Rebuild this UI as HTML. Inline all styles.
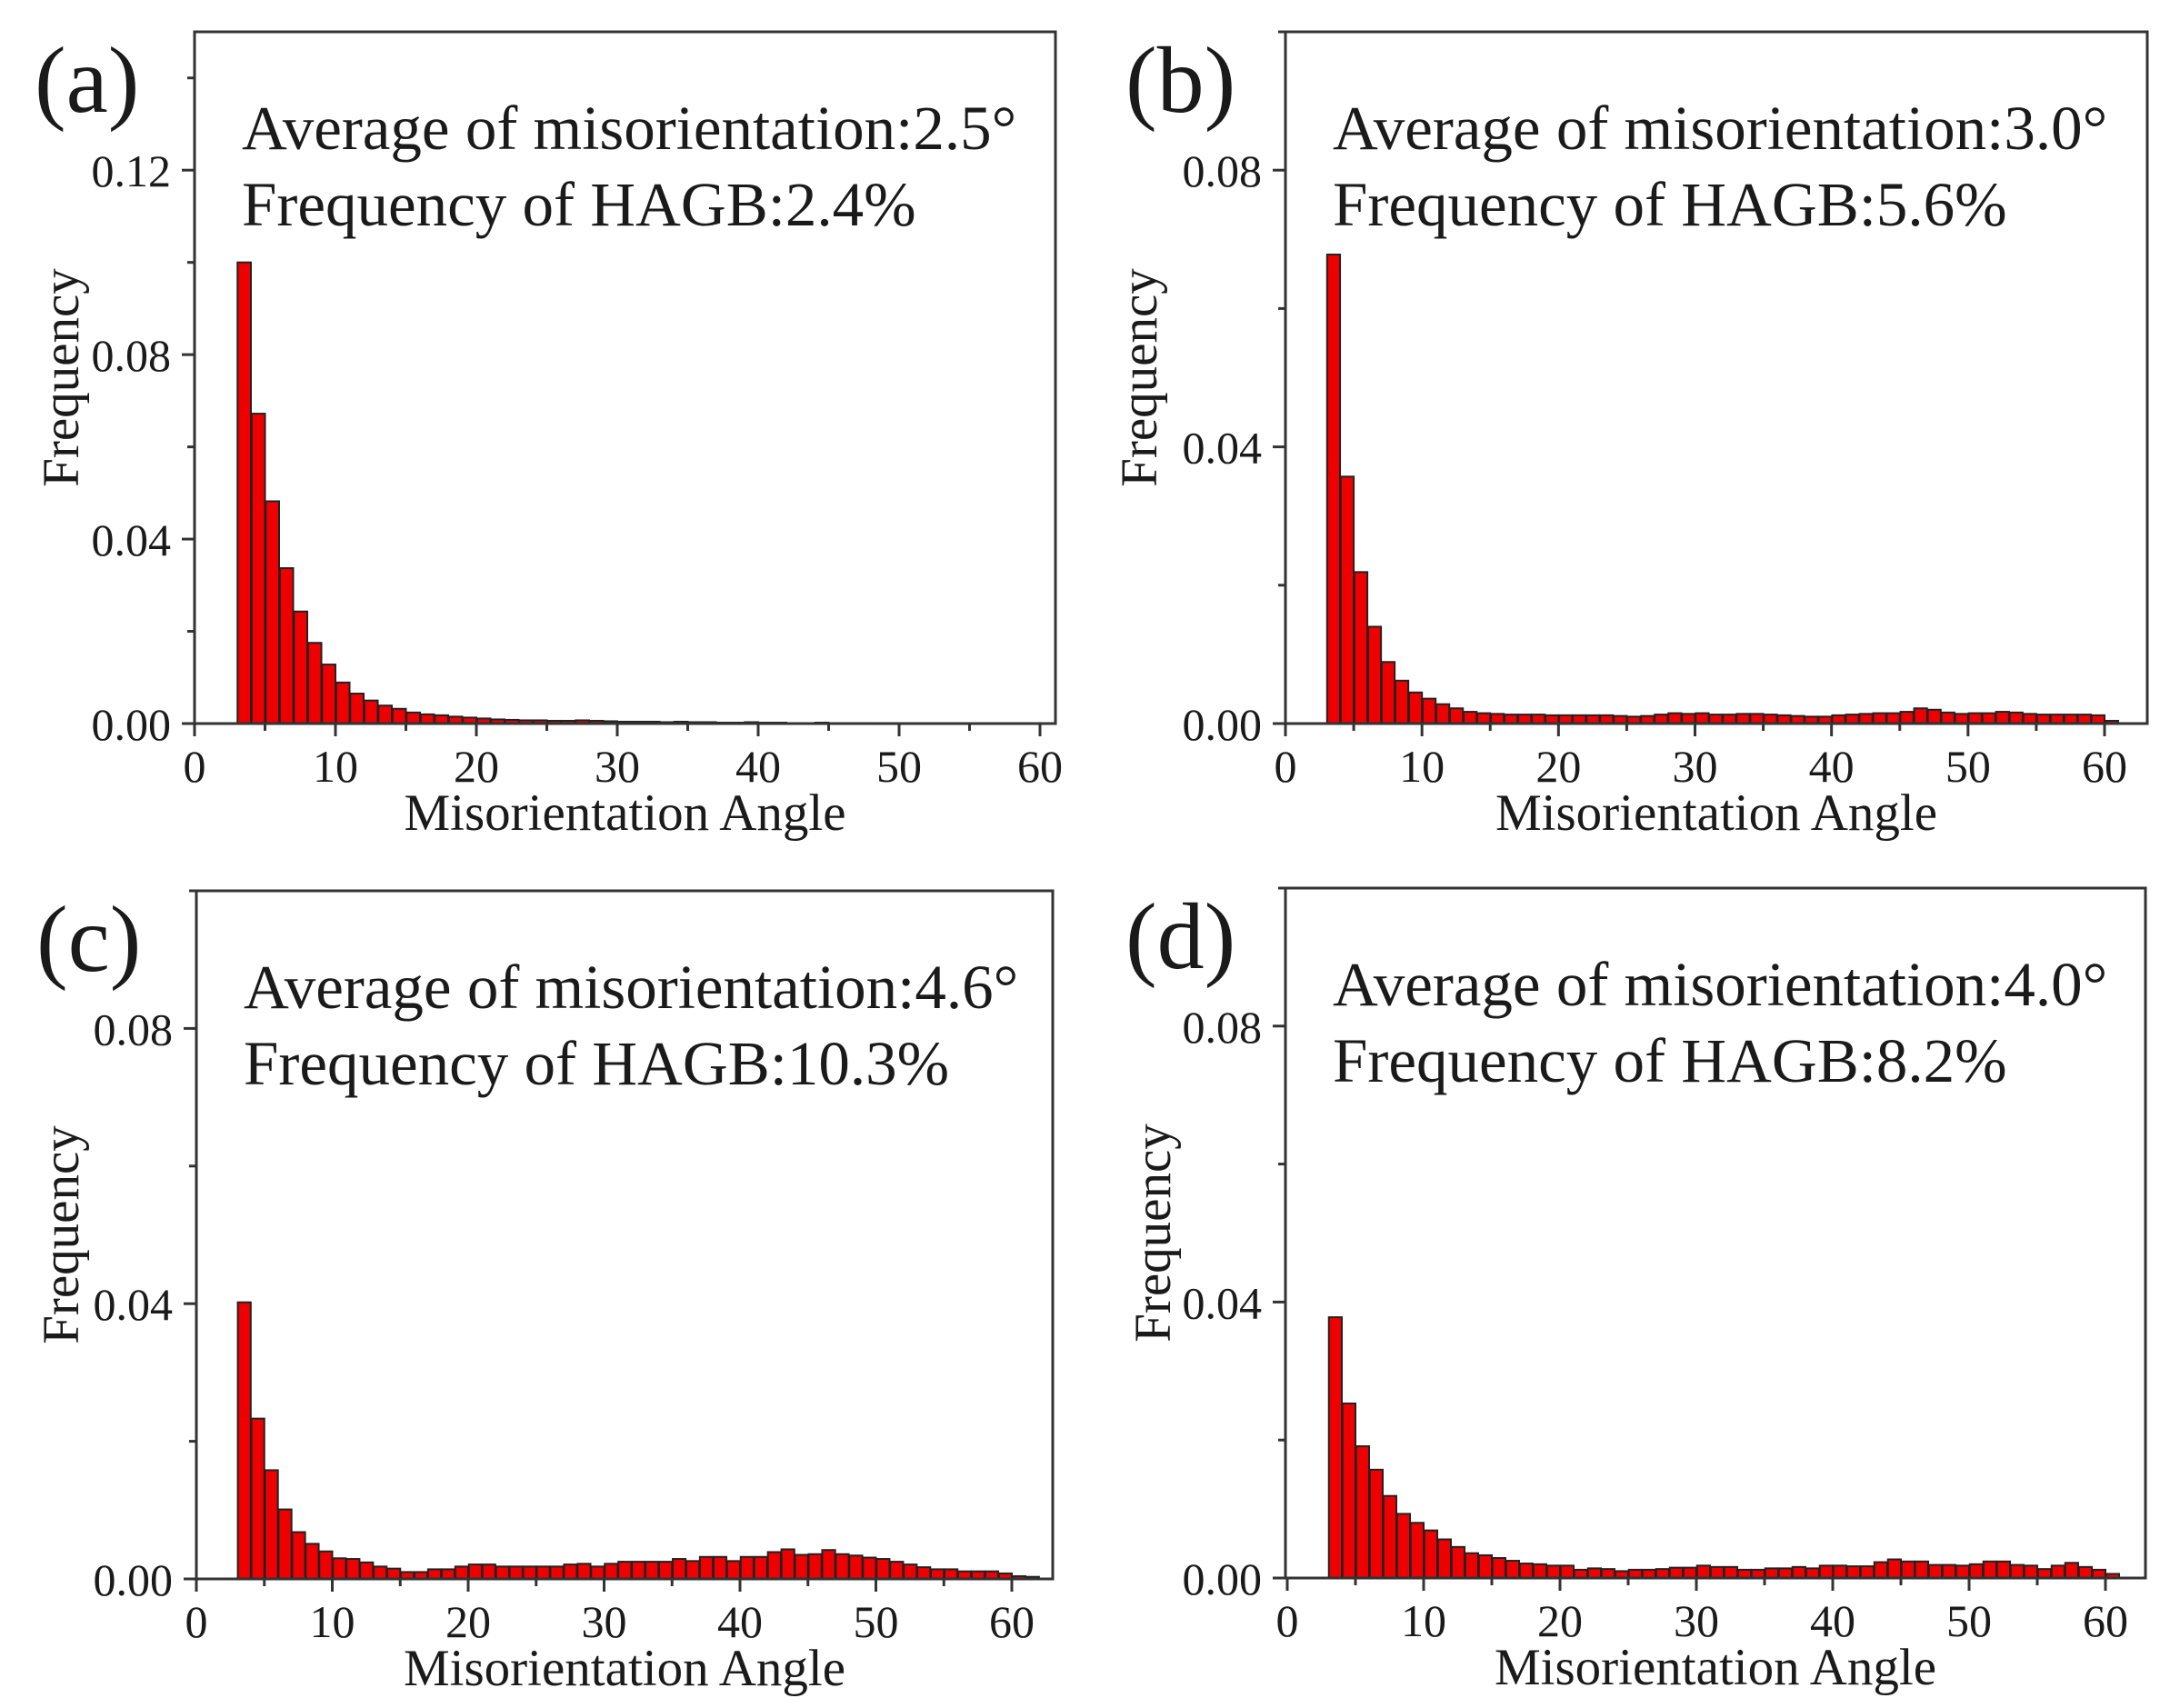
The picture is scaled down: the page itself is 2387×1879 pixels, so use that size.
<!DOCTYPE html>
<html><head><meta charset="utf-8"><style>
html,body{margin:0;padding:0;background:#fff;overflow:hidden;}
svg{display:block;}
text{font-family:"Liberation Serif","Times New Roman",serif;fill:#1a1a1a;}
</style></head><body>
<svg id="fig" width="2387" height="1879" viewBox="0 0 2387 1879" xmlns="http://www.w3.org/2000/svg"></svg>
<script>
// Shared bin data: bins of 1 degree starting at 3 degrees
const binStart = 3;
const xTicks = [0,10,20,30,40,50,60];
const yTicksA = [0,0.04,0.08,0.12];
const yTicksB = [0,0.04,0.08];
const yTickLabelsA = ["0.00","0.04","0.08","0.12"];
const yTickLabelsB = ["0.00","0.04","0.08"];

const freqA = [0.100,0.0672,0.0482,0.0337,0.0243,0.0175,0.0128,0.0089,0.0065,0.0050,0.0039,0.0032,0.0024,0.0020,0.0018,0.0015,0.0013,0.0011,0.0009,0.0008,0.0007,0.0007,0.0006,0.0006,0.0007,0.0006,0.0005,0.0004,0.0004,0.0004,0.0003,0.0004,0.0003,0.0003,0.0002,0.0002,0.0003,0.0002,0.0002,0.0001,0.0001,0.0002,0.0001,0.0001,0.0001,0,0,0,0,0,0,0,0,0,0,0,0,0];
const freqB = [0.0678,0.0357,0.0219,0.0140,0.0089,0.0062,0.0045,0.0036,0.0028,0.0022,0.0017,0.0015,0.0014,0.0013,0.0013,0.0013,0.0012,0.0012,0.0012,0.0012,0.0012,0.0011,0.0010,0.0011,0.0013,0.0015,0.0014,0.0015,0.0013,0.0013,0.0014,0.0014,0.0013,0.0012,0.0011,0.0010,0.0010,0.0012,0.0013,0.0014,0.0015,0.0015,0.0017,0.0022,0.0020,0.0016,0.0014,0.0015,0.0015,0.0017,0.0016,0.0014,0.0013,0.0013,0.0013,0.0013,0.0012,0.0004];
const freqC = [0.0402,0.0233,0.0158,0.0101,0.0068,0.0051,0.0040,0.0030,0.0029,0.0024,0.0018,0.0015,0.0010,0.0010,0.0014,0.0014,0.0018,0.0021,0.0021,0.0018,0.0018,0.0018,0.0018,0.0018,0.0021,0.0022,0.0018,0.0022,0.0025,0.0025,0.0025,0.0025,0.0029,0.0026,0.0032,0.0032,0.0026,0.0032,0.0032,0.0039,0.0043,0.0035,0.0036,0.0042,0.0036,0.0034,0.0031,0.0029,0.0025,0.0021,0.0017,0.0014,0.0014,0.0011,0.0011,0.0011,0.0008,0.0004,0.0003];
const freqD = [0.0378,0.0253,0.0191,0.0157,0.0119,0.0093,0.0080,0.0069,0.0056,0.0045,0.0036,0.0033,0.0029,0.0025,0.0021,0.0020,0.0018,0.0018,0.0012,0.0014,0.0013,0.0010,0.0012,0.0012,0.0013,0.0015,0.0015,0.0018,0.0016,0.0016,0.0012,0.0012,0.0014,0.0014,0.0016,0.0014,0.0018,0.0018,0.0017,0.0017,0.0023,0.0027,0.0024,0.0024,0.0019,0.0019,0.0018,0.0020,0.0024,0.0024,0.0019,0.0018,0.0013,0.0018,0.0022,0.0016,0.0012,0.0006];

const NS = "http://www.w3.org/2000/svg";
const svg = document.getElementById('fig');
function mk(tag, attrs, parent){
  const e = document.createElementNS(NS, tag);
  for (const k in attrs) e.setAttribute(k, attrs[k]);
  (parent||svg).appendChild(e);
  return e;
}

const panels = [
  {id:'a', L:214, T:35, R:1161, B:796, x0:214, x60:1144, ymax:0.15, yt:yTicksA, ytl:yTickLabelsA, data:freqA, ttlX:-128, avg:"Average of misorientation:2.5°", hagb:"Frequency of HAGB:2.4%"},
  {id:'b', L:1414, T:35, R:2362, B:796, x0:1414, x60:2315, ymax:0.1, yt:yTicksB, ytl:yTickLabelsB, data:freqB, ttlX:-142, avg:"Average of misorientation:3.0°", hagb:"Frequency of HAGB:5.6%"},
  {id:'c', L:216, T:980, R:1158, B:1737, x0:216, x60:1113, ymax:0.1, yt:yTicksB, ytl:yTickLabelsB, data:freqC, ttlX:-130, avg:"Average of misorientation:4.6°", hagb:"Frequency of HAGB:10.3%"},
  {id:'d', L:1414, T:977, R:2360, B:1736, x0:1416, x60:2316, ymax:0.1, yt:yTicksB, ytl:yTickLabelsB, data:freqD, ttlX:-127, avg:"Average of misorientation:4.0°", hagb:"Frequency of HAGB:8.2%"}
];

panels.forEach(p => {
  const g = mk('g', {});
  
  
  const xs = v => p.x0 + (p.x60 - p.x0) * v / 60;
  const ys = v => p.B - (p.B - p.T) * v / p.ymax;

  const bars = mk('g', {}, g);
  
  
  p.data.forEach((v, i) => {
    if (v <= 0) return;
    const x1 = xs(binStart + i + 0.05), x2 = xs(binStart + i + 1.0);
    const r = mk('rect', {x:x1, y:ys(v), width:x2 - x1, height:p.B - ys(v), fill:'#ee0000', stroke:'#222', 'stroke-width':2}, bars);
    
    
  });

  const fr = mk('rect', {x:p.L, y:p.T, width:p.R - p.L, height:p.B - p.T, fill:'none', stroke:'#333', 'stroke-width':3}, g);
  
  

  for (let v = 0; v <= 60; v += 5) {
    const major = v % 10 === 0;
    mk('line', {x1:xs(v), x2:xs(v), y1:p.B, y2:p.B + (major ? 14 : 8), stroke:'#333', 'stroke-width':3}, g);
  }
  xTicks.forEach(v => {
    const t = mk('text', {x:xs(v), y:p.B + 64, 'font-size':50, 'text-anchor':'middle'}, g);
    t.textContent = v;
    
    
  });
  for (let v = 0; v <= p.ymax + 1e-9; v += 0.02) {
    const major = Math.round(v / 0.02) % 2 === 0;
    mk('line', {x1:p.L - (major ? 14 : 8), x2:p.L, y1:ys(v), y2:ys(v), stroke:'#333', 'stroke-width':3}, g);
  }
  p.yt.forEach((v, i) => {
    const t = mk('text', {x:p.L - 26, y:ys(v) + 18, 'font-size':50, 'text-anchor':'end'}, g);
    t.textContent = p.ytl[i];
    
    
  });
  const xt = mk('text', {x:(p.L + p.R) / 2, y:p.B + 117, 'font-size':57, 'text-anchor':'middle'}, g);
  xt.textContent = 'Misorientation Angle';
  
  
  const cy = (p.T + p.B) / 2, cx = p.L + p.ttlX;
  const yt = mk('text', {x:cx, y:cy, 'font-size':57, 'text-anchor':'middle', transform:'rotate(-90 ' + cx + ' ' + cy + ')'}, g);
  yt.textContent = 'Frequency';
  
  
  const pl = mk('text', {x:p.L - 176, y:p.T + 88, 'font-size':104}, g);
  pl.textContent = '(' + p.id + ')';
  
  
  const a1 = mk('text', {x:p.L + 52, y:p.T + 129, 'font-size':69}, g);
  a1.textContent = p.avg;
  
  
  const a2 = mk('text', {x:p.L + 52, y:p.T + 213, 'font-size':69}, g);
  a2.textContent = p.hagb;
  
  
});
</script>
</body></html>
